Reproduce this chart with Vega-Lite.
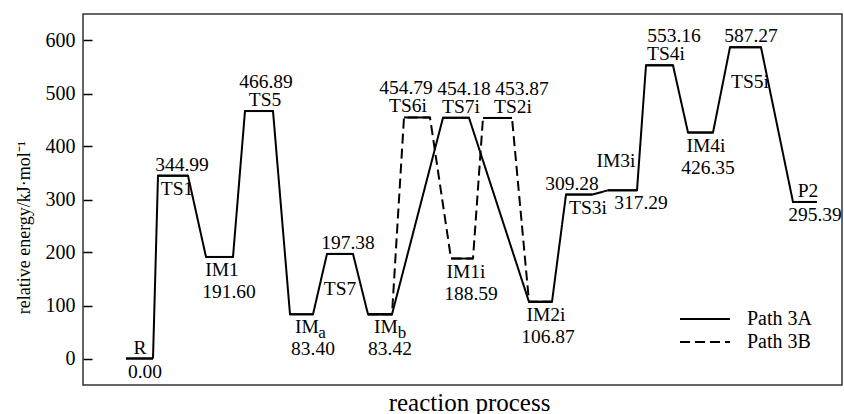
{
  "$schema": "https://vega.github.io/schema/vega-lite/v6.json",
  "width": 759,
  "height": 371,
  "autosize": {"type": "none"},
  "padding": {"left": 83, "top": 14, "right": 2, "bottom": 29},
  "background": "white",
  "config": {
    "view": {"stroke": "#333333", "strokeWidth": 1.5},
    "font": "Liberation Serif",
    "text": {"font": "Liberation Serif", "fontSize": 19.5, "color": "black", "baseline": "middle", "align": "center"}
  },
  "datasets": {
    "levels": [
      {"state": "R", "path": "Path 3A", "start": 43, "end": 70, "energy": 0.00},
      {"state": "TS1", "path": "Path 3A", "start": 75, "end": 105, "energy": 344.99},
      {"state": "IM1", "path": "Path 3A", "start": 123, "end": 150, "energy": 191.60},
      {"state": "TS5", "path": "Path 3A", "start": 162, "end": 190, "energy": 466.89},
      {"state": "IMa", "path": "Path 3A", "start": 207, "end": 230, "energy": 83.40},
      {"state": "TS7", "path": "Path 3A", "start": 244, "end": 270, "energy": 197.38},
      {"state": "IMb", "path": "Path 3A", "start": 285, "end": 309, "energy": 83.42},
      {"state": "TS7i", "path": "Path 3A", "start": 360, "end": 386, "energy": 454.18},
      {"state": "IM2i", "path": "Path 3A", "start": 446, "end": 469, "energy": 106.87},
      {"state": "TS3i", "path": "Path 3A", "start": 483, "end": 509, "energy": 309.28},
      {"state": "IM3i", "path": "Path 3A", "start": 525, "end": 554, "energy": 317.29},
      {"state": "TS4i", "path": "Path 3A", "start": 563, "end": 590, "energy": 553.16},
      {"state": "IM4i", "path": "Path 3A", "start": 605, "end": 630, "energy": 426.35},
      {"state": "TS5i", "path": "Path 3A", "start": 647, "end": 678, "energy": 587.27},
      {"state": "P2", "path": "Path 3A", "start": 710, "end": 734, "energy": 295.39},
      {"state": "IMb", "path": "Path 3B", "start": 285, "end": 309, "energy": 83.42},
      {"state": "TS6i", "path": "Path 3B", "start": 321, "end": 347, "energy": 454.79},
      {"state": "IM1i", "path": "Path 3B", "start": 368, "end": 390, "energy": 188.59},
      {"state": "TS2i", "path": "Path 3B", "start": 400, "end": 429, "energy": 453.87},
      {"state": "IM2i", "path": "Path 3B", "start": 446, "end": 469, "energy": 106.87}
    ],
    "labels": [
      {"text": "R", "rc": 57, "energy": 0.00, "slot": "a1"},
      {"text": "0.00", "rc": 62, "energy": 0.00, "slot": "b1"},
      {"text": "344.99", "rc": 99, "energy": 344.99, "slot": "a1"},
      {"text": "TS1", "rc": 94, "energy": 344.99, "slot": "b1"},
      {"text": "IM1", "rc": 139, "energy": 191.60, "slot": "b1"},
      {"text": "191.60", "rc": 146, "energy": 191.60, "slot": "b2"},
      {"text": "466.89", "rc": 183, "energy": 466.89, "slot": "a2"},
      {"text": "TS5", "rc": 182, "energy": 466.89, "slot": "a1"},
      {"text": "IM", "rc": 224, "energy": 83.40, "slot": "b1"},
      {"text": "a", "rc": 239, "energy": 83.40, "slot": "sub"},
      {"text": "83.40", "rc": 230, "energy": 83.40, "slot": "b2"},
      {"text": "197.38", "rc": 265, "energy": 197.38, "slot": "a1"},
      {"text": "TS7", "rc": 257, "energy": 197.38, "slot": "b2"},
      {"text": "IM", "rc": 303, "energy": 83.42, "slot": "b1"},
      {"text": "b", "rc": 319, "energy": 83.42, "slot": "sub"},
      {"text": "83.42", "rc": 307, "energy": 83.42, "slot": "b2"},
      {"text": "454.79", "rc": 323, "energy": 454.79, "slot": "a2"},
      {"text": "TS6i", "rc": 325, "energy": 454.79, "slot": "a1"},
      {"text": "454.18", "rc": 381, "energy": 454.18, "slot": "a2"},
      {"text": "TS7i", "rc": 378, "energy": 454.18, "slot": "a1"},
      {"text": "453.87", "rc": 439, "energy": 453.87, "slot": "a2"},
      {"text": "TS2i", "rc": 430, "energy": 453.87, "slot": "a1"},
      {"text": "IM1i", "rc": 383, "energy": 188.59, "slot": "b1"},
      {"text": "188.59", "rc": 388, "energy": 188.59, "slot": "b2"},
      {"text": "IM2i", "rc": 463, "energy": 106.87, "slot": "b1"},
      {"text": "106.87", "rc": 465, "energy": 106.87, "slot": "b2"},
      {"text": "309.28", "rc": 489, "energy": 309.28, "slot": "a1"},
      {"text": "TS3i", "rc": 505, "energy": 309.28, "slot": "b1"},
      {"text": "IM3i", "rc": 533, "energy": 317.29, "slot": "a2"},
      {"text": "317.29", "rc": 558, "energy": 317.29, "slot": "b1"},
      {"text": "553.16", "rc": 591, "energy": 553.16, "slot": "a2"},
      {"text": "TS4i", "rc": 583, "energy": 553.16, "slot": "a1"},
      {"text": "IM4i", "rc": 623, "energy": 426.35, "slot": "b1"},
      {"text": "426.35", "rc": 625, "energy": 426.35, "slot": "b2"},
      {"text": "587.27", "rc": 668, "energy": 587.27, "slot": "a1"},
      {"text": "TS5i", "rc": 667, "energy": 587.27, "slot": "b2"},
      {"text": "P2", "rc": 725, "energy": 295.39, "slot": "a1"},
      {"text": "295.39", "rc": 732, "energy": 295.39, "slot": "b1"}
    ]
  },
  "layer": [
    {
      "data": {"name": "levels"},
      "transform": [{"fold": ["start", "end"], "as": ["edge", "rc"]}],
      "mark": {"type": "line", "color": "black", "strokeWidth": 2, "strokeJoin": "miter"},
      "encoding": {
        "x": {"field": "rc", "type": "quantitative", "scale": {"domain": [0, 759], "nice": false, "zero": false},
              "axis": {"title": "reaction process", "ticks": false, "labels": false, "domain": false, "grid": false,
                       "titleFont": "Liberation Serif", "titleFontSize": 25, "titleFontWeight": "normal", "titleColor": "black",
                       "titleX": 386, "titleY": 25, "titleBaseline": "alphabetic", "titleAlign": "center"}},
        "y": {"field": "energy", "type": "quantitative", "scale": {"domain": [-50, 650], "nice": false, "zero": false},
              "axis": {"title": "relative energy/kJ·mol⁻¹", "values": [0, 100, 200, 300, 400, 500, 600], "grid": false, "domain": false,
                       "offset": -9, "tickSize": 9, "tickColor": "black", "tickWidth": 1.5, "labelPadding": 8,
                       "labelFont": "Liberation Serif", "labelFontSize": 20, "labelColor": "black",
                       "titleFont": "Liberation Serif", "titleFontSize": 18, "titleFontWeight": "normal", "titleColor": "black",
                       "titleX": -63, "titleY": 213, "titleBaseline": "alphabetic", "titleAlign": "center", "titleAngle": 270}},
        "strokeDash": {"field": "path", "type": "nominal",
                       "scale": {"domain": ["Path 3A", "Path 3B"], "range": [[1, 0], [10, 5]]},
                       "legend": {"orient": "none", "legendX": 611, "legendY": 294, "title": null,
                                  "symbolType": "M-2.5,0H2.5", "symbolSize": 400, "symbolStrokeWidth": 2, "symbolStrokeColor": "black",
                                  "labelFont": "Liberation Serif", "labelFontSize": 20, "labelColor": "black", "labelOffset": 31, "rowPadding": 2}},
        "detail": {"field": "path"},
        "order": {"field": "rc", "type": "quantitative"}
      }
    },
    {
      "data": {"name": "levels"},
      "mark": {"type": "rule", "color": "black", "strokeWidth": 2},
      "encoding": {
        "x": {"field": "start", "type": "quantitative"},
        "x2": {"field": "end"},
        "y": {"field": "energy", "type": "quantitative"}
      }
    },
    {
      "data": {"name": "labels"},
      "transform": [{"filter": "datum.slot === 'a2'"}],
      "mark": {"type": "text", "dy": -29},
      "encoding": {"x": {"field": "rc", "type": "quantitative"}, "y": {"field": "energy", "type": "quantitative"}, "text": {"field": "text"}}
    },
    {
      "data": {"name": "labels"},
      "transform": [{"filter": "datum.slot === 'a1'"}],
      "mark": {"type": "text", "dy": -11},
      "encoding": {"x": {"field": "rc", "type": "quantitative"}, "y": {"field": "energy", "type": "quantitative"}, "text": {"field": "text"}}
    },
    {
      "data": {"name": "labels"},
      "transform": [{"filter": "datum.slot === 'b1'"}],
      "mark": {"type": "text", "dy": 13},
      "encoding": {"x": {"field": "rc", "type": "quantitative"}, "y": {"field": "energy", "type": "quantitative"}, "text": {"field": "text"}}
    },
    {
      "data": {"name": "labels"},
      "transform": [{"filter": "datum.slot === 'b2'"}],
      "mark": {"type": "text", "dy": 35},
      "encoding": {"x": {"field": "rc", "type": "quantitative"}, "y": {"field": "energy", "type": "quantitative"}, "text": {"field": "text"}}
    },
    {
      "data": {"name": "labels"},
      "transform": [{"filter": "datum.slot === 'sub'"}],
      "mark": {"type": "text", "dy": 19, "fontSize": 17},
      "encoding": {"x": {"field": "rc", "type": "quantitative"}, "y": {"field": "energy", "type": "quantitative"}, "text": {"field": "text"}}
    }
  ]
}
